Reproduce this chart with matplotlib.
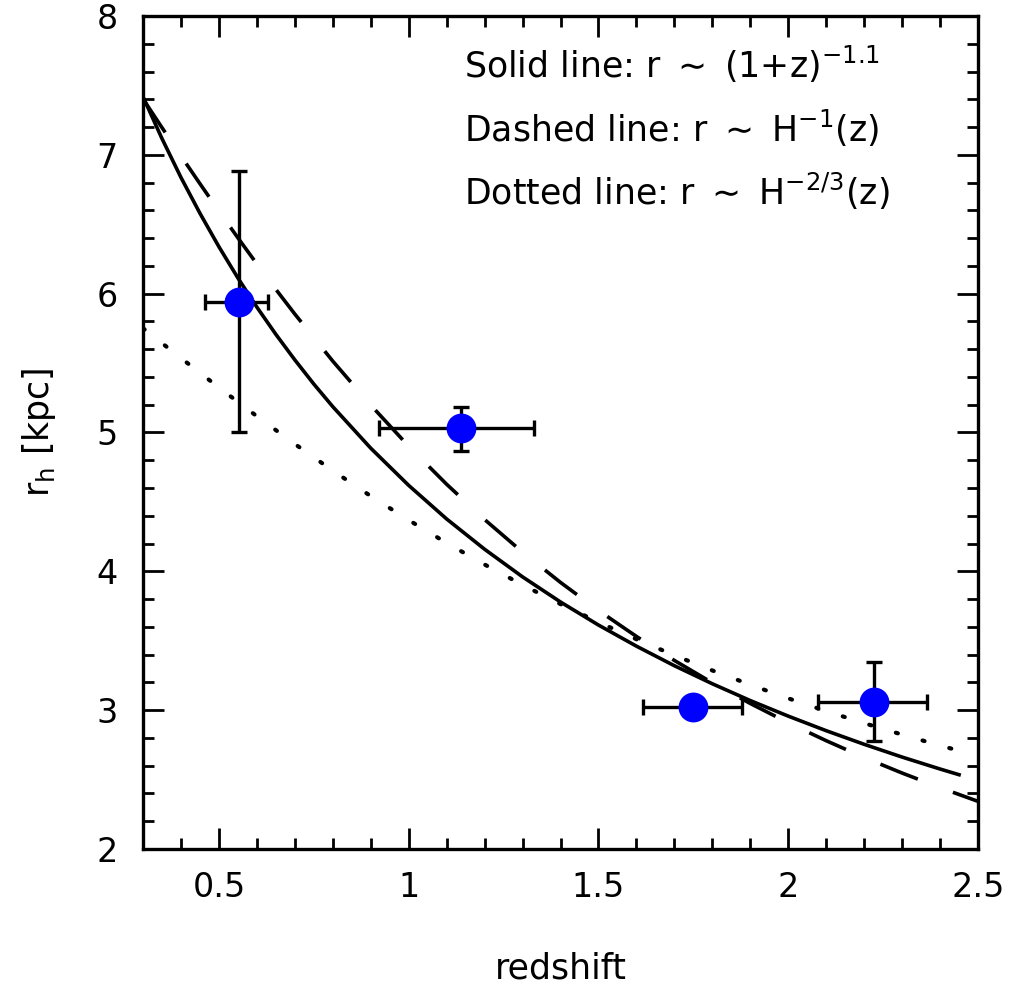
import numpy as np
import matplotlib
matplotlib.use("Agg")
import matplotlib.pyplot as plt
from matplotlib.ticker import MultipleLocator

plt.rcParams['font.family'] = ['DejaVu Sans']
plt.rcParams['mathtext.fontset'] = 'dejavusans'
plt.rcParams['lines.scale_dashes'] = False

# data points (redshift, r_h) with asymmetric errors
z_obs = [0.553, 1.139, 1.750, 2.226]
r_obs = [5.94, 5.03, 3.02, 3.06]
z_lo = [0.463, 0.921, 1.618, 2.079]
z_hi = [0.629, 1.329, 1.879, 2.366]
r_lo = [5.00, 4.87, 3.02, 2.78]
r_hi = [6.88, 5.18, 3.02, 3.35]

# model curves
z_solid = [0.3, 0.35, 0.4, 0.45, 0.5, 0.55, 0.6, 0.65, 0.7, 0.75, 0.8, 0.9,
           1.0, 1.1, 1.2, 1.3, 1.4, 1.5, 1.6, 1.7, 1.8, 1.9, 2.0, 2.1, 2.2,
           2.3, 2.4, 2.45]
r_solid = [7.418, 7.117, 6.837, 6.579, 6.338, 6.113, 5.903, 5.707, 5.523,
           5.349, 5.186, 4.887, 4.619, 4.377, 4.159, 3.960, 3.779, 3.613,
           3.461, 3.320, 3.190, 3.069, 2.957, 2.852, 2.754, 2.662, 2.576,
           2.535]

z_dash = [0.3, 0.35, 0.4, 0.45, 0.5, 0.55, 0.6, 0.65, 0.7, 0.8, 0.9, 1.0,
          1.1, 1.2, 1.3, 1.4, 1.5, 1.6, 1.7, 1.8, 1.9, 2.0, 2.1, 2.2, 2.3,
          2.4, 2.5]
r_dash = [7.403, 7.196, 6.992, 6.792, 6.595, 6.402, 6.214, 6.031, 5.853,
          5.514, 5.197, 4.901, 4.627, 4.373, 4.138, 3.920, 3.718, 3.531,
          3.358, 3.197, 3.048, 2.909, 2.780, 2.659, 2.547, 2.442, 2.343]

z_dot = [0.3, 0.4, 0.5, 0.6, 0.7, 0.8, 0.9, 1.0, 1.1, 1.2, 1.3, 1.4, 1.5,
         1.6, 1.7, 1.8, 1.9, 2.0, 2.1, 2.2, 2.3, 2.4, 2.45]
r_dot = [5.751, 5.536, 5.324, 5.117, 4.917, 4.725, 4.542, 4.369, 4.204,
         4.049, 3.902, 3.764, 3.634, 3.511, 3.395, 3.286, 3.183, 3.085,
         2.993, 2.906, 2.824, 2.745, 2.708]

labels = [r'Solid line: r $\sim$ (1+z)$^{-1.1}$',
          r'Dashed line: r $\sim$ H$^{-1}$(z)',
          r'Dotted line: r $\sim$ H$^{-2/3}$(z)']

fig = plt.figure(figsize=(10.17, 9.98), dpi=100)
ax = fig.add_axes([0.1406, 0.1493, 0.8211, 0.8347])

lw = 2.6
ax.plot(z_solid, r_solid, color='black', lw=lw)
ax.plot(z_dash, r_dash, color='black', lw=lw, dashes=(29, 27))
ax.plot(z_dot, r_dot, color='black', lw=lw + 0.4, dashes=(1.5, 18.5),
        dash_capstyle='round')

z_obs = np.array(z_obs)
r_obs = np.array(r_obs)
xerr = [z_obs - np.array(z_lo), np.array(z_hi) - z_obs]
yerr = [r_obs - np.array(r_lo), np.array(r_hi) - r_obs]
ax.errorbar(z_obs, r_obs, xerr=xerr, yerr=yerr, fmt='none', ecolor='black',
            elinewidth=2.4, capsize=6, capthick=2.4, zorder=3)
ax.plot(z_obs, r_obs, 'o', color='#0000ff', ms=21.5, mec='none', zorder=4)

ax.set_xlim(0.3, 2.5)
ax.set_ylim(2, 8)
ax.xaxis.set_major_locator(MultipleLocator(0.5))
ax.xaxis.set_minor_locator(MultipleLocator(0.1))
ax.yaxis.set_major_locator(MultipleLocator(1))
ax.yaxis.set_minor_locator(MultipleLocator(0.2))
ax.set_xticks([0.5, 1, 1.5, 2, 2.5])
ax.set_xticklabels(['0.5', '1', '1.5', '2', '2.5'])
ax.tick_params(which='both', direction='in', top=True, right=True,
               width=2.0, labelsize=24)
ax.tick_params(which='major', length=15)
ax.tick_params(which='minor', length=8)
ax.tick_params(axis='x', pad=16)
ax.tick_params(axis='y', pad=18)
for s in ax.spines.values():
    s.set_linewidth(2.4)

ax.set_xlabel('redshift', fontsize=25, labelpad=34)
ax.set_ylabel(r'r$_{\rm h}$ [kpc]', fontsize=25, labelpad=28)

for i, t in enumerate(labels):
    ax.text(0.384, 0.925 - i * 0.076, t, transform=ax.transAxes, fontsize=25,
            ha='left', va='baseline')

fig.savefig('out.png', dpi=100)
